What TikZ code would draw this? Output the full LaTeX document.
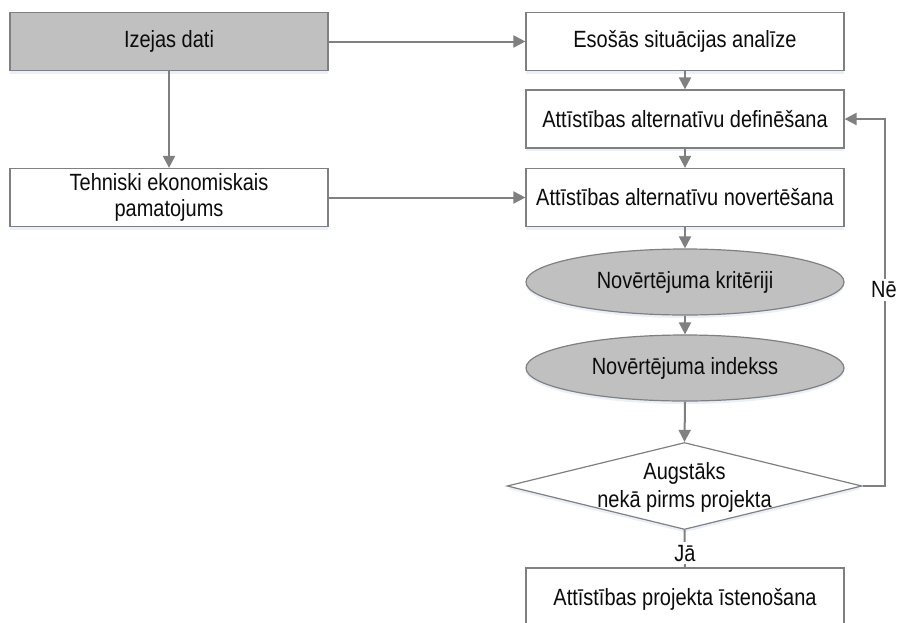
\documentclass[tikz,border=0pt]{standalone}
\usepackage{fontspec}
\setmainfont{Liberation Sans}[FakeStretch=0.85]
\usetikzlibrary{shapes.geometric,arrows.meta,shadows}

\definecolor{linegray}{RGB}{128,128,128}
\definecolor{boxgray}{RGB}{192,192,192}
\definecolor{glow}{RGB}{214,226,244}
\definecolor{ink}{RGB}{12,12,12}

\begin{document}
\begin{tikzpicture}[x=1pt,y=-1pt,
  font=\fontsize{23.5}{27}\selectfont, text=ink,
  glowshadow/.style={drop shadow={shadow xshift=0pt,shadow yshift=-3pt,fill=glow,opacity=0.5}},
  box/.style={rectangle, draw=linegray, line width=1.2pt, fill=white,
    minimum width=318pt, minimum height=58pt, inner sep=0pt, align=center, glowshadow},
  greybox/.style={box, fill=boxgray},
  oval/.style={ellipse, draw=linegray, line width=1.2pt, fill=boxgray,
    minimum width=318pt, minimum height=66pt, inner sep=0pt, glowshadow},
  decision/.style={diamond, draw=linegray, line width=1.2pt, fill=white,
    minimum width=355pt, minimum height=87pt, inner sep=0pt, glowshadow},
  flow/.style={draw=linegray, line width=2pt, -{Triangle[length=12pt,width=12pt]}},
  plain/.style={draw=linegray, line width=2pt},
  tag/.style={fill=white, inner sep=3pt}
]
\useasboundingbox (0,0) rectangle (901,622);

% left column
\node[greybox] (izejas) at (169,41.5) {Izejas dati};
\node[box, font=\fontsize{23.5}{26}\selectfont] (tehn) at (169,197.5) {Tehniski ekonomiskais\\pamatojums};

% main column
\node[box] (esosas) at (685,41.5) {Esošās situācijas analīze};
\node[box] (defin)  at (685,119)  {Attīstības alternatīvu definēšana};
\node[box] (novert) at (685,197.5) {Attīstības alternatīvu novertēšana};
\node[oval] (krit)  at (685,282)  {Novērtējuma kritēriji};
\node[oval] (indekss) at (685,368) {Novērtējuma indekss};
\node[decision] (dec) at (684.5,486) {};
\node[align=center, font=\fontsize{23.5}{28}\selectfont] (dectext) at (684.5,487) {Augstāks\\nekā pirms projekta};
\node[box, minimum height=62pt] (impl) at (685,599) {Attīstības projekta īstenošana};

% connectors
\draw[flow] (izejas.east) -- (esosas.west);
\draw[flow] (izejas.south) -- (tehn.north);
\draw[flow] (tehn.east) -- (novert.west);
\draw[flow] (esosas.south) -- (defin.north);
\draw[flow] (defin.south) -- (novert.north);
\draw[flow] (novert.south) -- (krit.north);
\draw[flow] (krit.south) -- (indekss.north);
\draw[flow] (indekss.south) -- (dec.north);
\draw[plain] (dec.south) -- node[tag, pos=0.62] (ja) {Jā} (impl.north);
\draw[flow] (dec.east) -- ++(22,0) coordinate (turn) |- (defin.east);
\node[tag] (ne) at (884,290) {Nē};
\end{tikzpicture}
\end{document}
